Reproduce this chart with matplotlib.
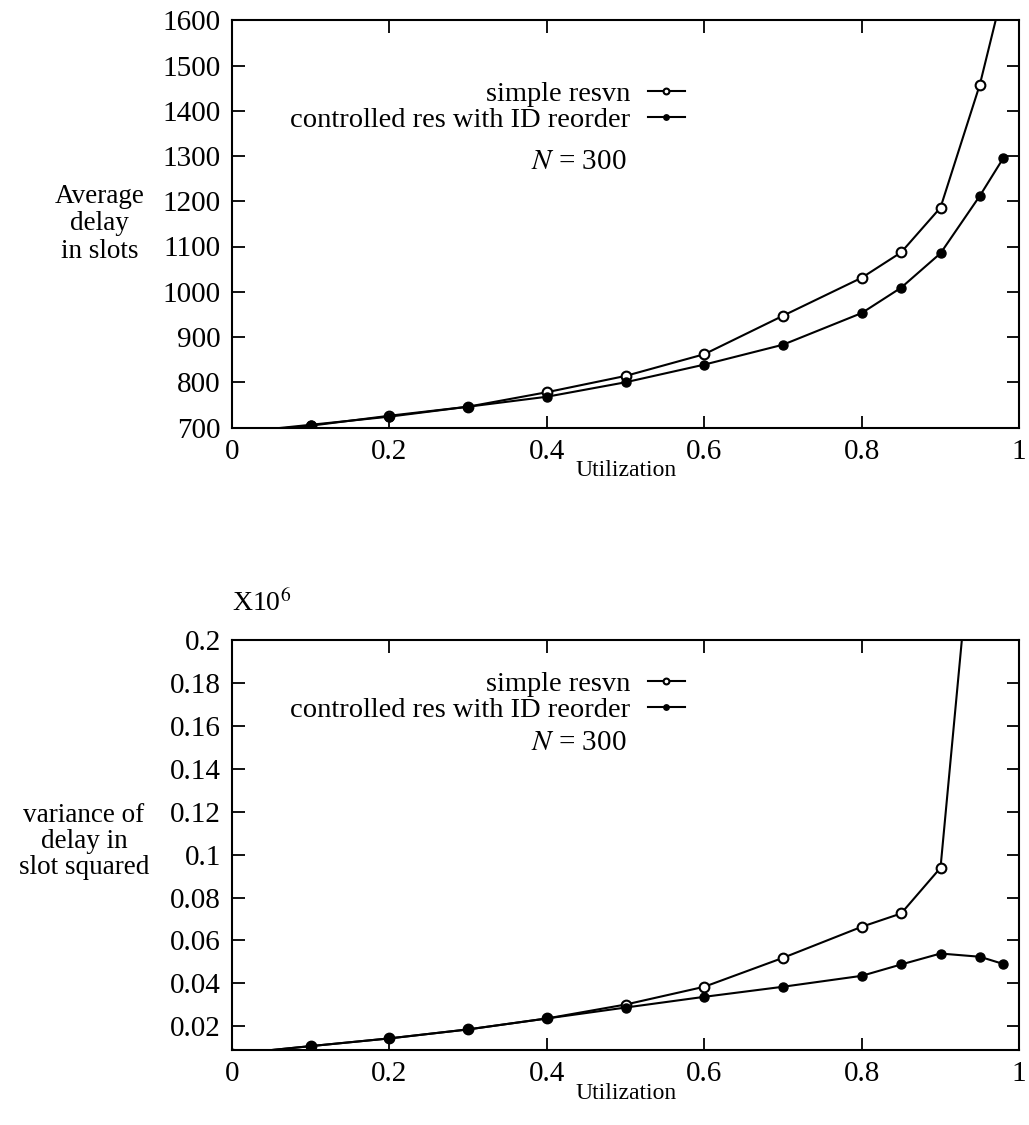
import matplotlib
matplotlib.use("Agg")
import matplotlib.pyplot as plt

# ---- data ----
util = [0.0, 0.1, 0.2, 0.3, 0.4, 0.5, 0.6, 0.7, 0.8, 0.85, 0.9, 0.95, 0.98]
delay_simple = [688, 704, 726, 746, 778, 814, 862, 947, 1031, 1087, 1186, 1458, 1670]
delay_ctrl = [688, 706, 724, 746, 768, 800, 839, 883, 953, 1009, 1085, 1212, 1296]

util_var_simple = [0.0, 0.1, 0.2, 0.3, 0.4, 0.5, 0.6, 0.7, 0.8, 0.85, 0.9, 0.95]
var_simple = [0.007, 0.0107, 0.0143, 0.0185, 0.0236, 0.0301, 0.0384, 0.0519, 0.0664, 0.0726, 0.0939, 0.29]
util_var_ctrl = [0.0, 0.1, 0.2, 0.3, 0.4, 0.5, 0.6, 0.7, 0.8, 0.85, 0.9, 0.95, 0.98]
var_ctrl = [0.007, 0.0107, 0.0143, 0.0185, 0.0236, 0.0287, 0.0337, 0.0384, 0.0435, 0.0488, 0.0539, 0.0524, 0.0490]

x_ticks = [0, 0.2, 0.4, 0.6, 0.8, 1]
x_ticklabels = ["0", "0.2", "0.4", "0.6", "0.8", "1"]
y1_ticks = [700, 800, 900, 1000, 1100, 1200, 1300, 1400, 1500, 1600]
y2_ticks = [0.02, 0.04, 0.06, 0.08, 0.1, 0.12, 0.14, 0.16, 0.18, 0.2]
y2_ticklabels = ["0.02", "0.04", "0.06", "0.08", "0.1", "0.12", "0.14", "0.16", "0.18", "0.2"]

plt.rcParams['font.family'] = ['Liberation Serif', 'DejaVu Serif']
plt.rcParams['mathtext.fontset'] = 'stix'

fig = plt.figure(figsize=(10.29, 11.25), dpi=100)
ax1 = fig.add_axes([0.2255, 0.620, 0.765, 0.362])
ax2 = fig.add_axes([0.2255, 0.0667, 0.765, 0.364])

def style(ax):
    for s in ax.spines.values():
        s.set_linewidth(1.5)
    ax.tick_params(direction='in', length=9, width=1.3, top=True, right=True,
                   labelsize=21, pad=8)
    ax.set_xlim(0, 1)
    ax.set_xticks(x_ticks)
    ax.set_xticklabels(x_ticklabels)
    ax.set_xlabel("Utilization", fontsize=17, labelpad=-3)

lw = 1.5
leg_kw = dict(loc='upper right', frameon=False, markerfirst=False, fontsize=20.5,
              handlelength=1.3, handletextpad=0.6, labelspacing=0.0, borderpad=0,
              markerscale=0.6)

ax1.plot(util, delay_simple, '-o', color='black', mfc='white', mec='black',
         mew=1.5, ms=7, lw=lw, label="simple resvn")
ax1.plot(util, delay_ctrl, '-o', color='black', mfc='black', mec='black',
         ms=6.5, lw=lw, label="controlled res with ID reorder")
style(ax1)
ax1.set_ylim(700, 1600)
ax1.set_yticks(y1_ticks)
ax1.text(-0.168, 0.50, "Average\ndelay\nin slots", transform=ax1.transAxes,
         ha='center', va='center', fontsize=19.5, linespacing=1.15)
ax1.legend(bbox_to_anchor=(0.593, 0.885), **leg_kw)
ax1.text(0.44, 0.653, r"$N$ = 300", transform=ax1.transAxes, ha='center',
         va='center', fontsize=21)

ax2.plot(util_var_simple, var_simple, '-o', color='black', mfc='white', mec='black',
         mew=1.5, ms=7, lw=lw, label="simple resvn")
ax2.plot(util_var_ctrl, var_ctrl, '-o', color='black', mfc='black', mec='black',
         ms=6.5, lw=lw, label="controlled res with ID reorder")
style(ax2)
ax2.set_ylim(0.0089, 0.2)
ax2.set_yticks(y2_ticks)
ax2.set_yticklabels(y2_ticklabels)
ax2.text(-0.188, 0.51, "variance of\ndelay in\nslot squared", transform=ax2.transAxes,
         ha='center', va='center', fontsize=19.5, linespacing=1.05)
ax2.legend(bbox_to_anchor=(0.593, 0.96), **leg_kw)
ax2.text(0.44, 0.75, r"$N$ = 300", transform=ax2.transAxes, ha='center',
         va='center', fontsize=21)
ax2.text(0.0, 1.09, r"X10$^6$", transform=ax2.transAxes, ha='left',
         va='center', fontsize=20)

fig.savefig("out.png", dpi=100, facecolor='white')
